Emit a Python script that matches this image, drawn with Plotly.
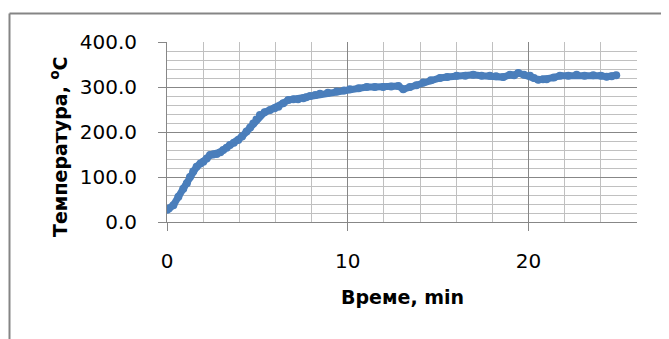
import plotly.graph_objects as go

# Time (min) and temperature (°C)
time_min = [0, 0.1, 0.35, 0.63, 0.9, 1.1, 1.27, 1.45, 1.64, 1.85,
            2.01, 2.2, 2.38, 2.55, 2.75, 2.95, 3.11, 3.3, 3.48, 3.7,
            3.94, 4.15, 4.4, 4.6, 4.77, 4.95, 5.14, 5.4, 5.7, 5.95,
            6.16, 6.43, 6.71, 6.99, 7.25, 7.54, 7.7, 7.91, 8.2, 8.46,
            8.9, 9.39, 9.8, 10.12, 10.6, 11.05, 11.5, 11.96, 12.4, 12.8,
            13.07, 13.44, 13.8, 14.18, 14.6, 15.1, 15.5, 16.02, 16.5, 16.94,
            17.4, 17.86, 18.2, 18.6, 18.97, 19.2, 19.43, 19.75, 20.08, 20.3,
            20.54, 20.8, 21.0, 21.4, 21.74, 22.2, 22.66, 23.1, 23.58, 24.0,
            24.32, 24.6, 24.85]
temperature = [27, 30, 37, 56, 74, 86, 100, 112, 123, 130,
               134, 141, 149, 150, 151, 155, 160, 165, 171, 176,
               182, 190, 201, 210, 219, 228, 238, 244, 249, 253,
               256, 264, 271, 273, 273, 275, 277, 280, 282, 285,
               287, 290, 292, 295, 297, 300, 300, 300, 301, 302,
               295, 300, 304, 310, 315, 320, 322, 325, 325, 327,
               325, 325, 324, 322, 327, 326, 331, 327, 325, 320,
               316, 317, 317.5, 321, 325, 325, 327, 325, 326, 325,
               323, 324, 326]

x_ticks = [0, 10, 20]
y_ticks = [0, 100, 200, 300, 400]
x_title = "Време, min"
y_title = "Температура, <sup>o</sup>C"

MAJOR = "#878787"
MINOR = "#c0c0c0"
FONT = "DejaVu Sans"

fig = go.Figure()
fig.add_trace(go.Scatter(
    x=time_min, y=temperature, mode="lines+markers",
    line=dict(color="#4a7ebb", width=7),
    marker=dict(color="#4a7ebb", size=8),
    showlegend=False, hoverinfo="skip",
))

fig.update_xaxes(
    range=[0, 26], tickvals=x_ticks, ticktext=[str(v) for v in x_ticks],
    showgrid=True, gridcolor=MAJOR, gridwidth=1,
    minor=dict(dtick=2, tick0=0, showgrid=True, gridcolor=MINOR, gridwidth=1),
    showline=True, linecolor=MAJOR, linewidth=1,
    ticks="outside", ticklen=8, tickcolor=MAJOR, tickwidth=1,
    tickfont=dict(family=FONT, size=20, color="#000"),
    ticklabelstandoff=13, zeroline=False, automargin=False,
)
fig.update_yaxes(
    range=[0, 400], tickvals=y_ticks, ticktext=[f"{v:.1f}" for v in y_ticks],
    showgrid=True, gridcolor=MAJOR, gridwidth=1,
    minor=dict(dtick=20, tick0=0, showgrid=True, gridcolor=MINOR, gridwidth=1),
    showline=True, linecolor=MAJOR, linewidth=1,
    ticks="outside", ticklen=8, tickcolor=MAJOR, tickwidth=1,
    tickfont=dict(family=FONT, size=20, color="#000"),
    ticklabelstandoff=17, zeroline=False, automargin=False,
)

# page body has an 8px margin, so figure coords = page coords - 8;
# the figure is shrunk by that margin so the page does not overflow
OFF = 8
L, R, T, B = 167 - OFF, 637 - OFF, 42 - OFF, 222 - OFF
W, H = 669 - OFF, 339 - OFF
pw, ph = R - L, B - T

def px_x(p):
    return (p - OFF - L) / pw

def px_y(p):
    return (B - (p - OFF)) / ph

fig.add_annotation(text=x_title, xref="paper", yref="paper",
                   x=px_x(402), y=px_y(297), xanchor="center", yanchor="middle",
                   showarrow=False,
                   font=dict(family=FONT, size=19, color="#000", weight="bold"))
fig.add_annotation(text=y_title, xref="paper", yref="paper",
                   x=px_x(59), y=px_y(147), xanchor="center", yanchor="middle",
                   showarrow=False, textangle=-90,
                   font=dict(family=FONT, size=19, color="#000", weight="bold"))

# outer chart border (left and top edges; the rest lies outside the window)
border = dict(color="#858585", width=2)
fig.add_shape(type="line", xref="paper", yref="paper",
              x0=px_x(9.5), x1=px_x(9.5), y0=px_y(360), y1=px_y(13.5),
              line=border, layer="above")
fig.add_shape(type="line", xref="paper", yref="paper",
              x0=px_x(9.5), x1=px_x(700), y0=px_y(13.5), y1=px_y(13.5),
              line=border, layer="above")

fig.update_layout(
    width=W, height=H,
    margin=dict(l=L, r=W - R, t=T, b=H - B, autoexpand=False),
    paper_bgcolor="white", plot_bgcolor="white",
    showlegend=False,
)

fig.write_html("out.html", config={"displayModeBar": False})
